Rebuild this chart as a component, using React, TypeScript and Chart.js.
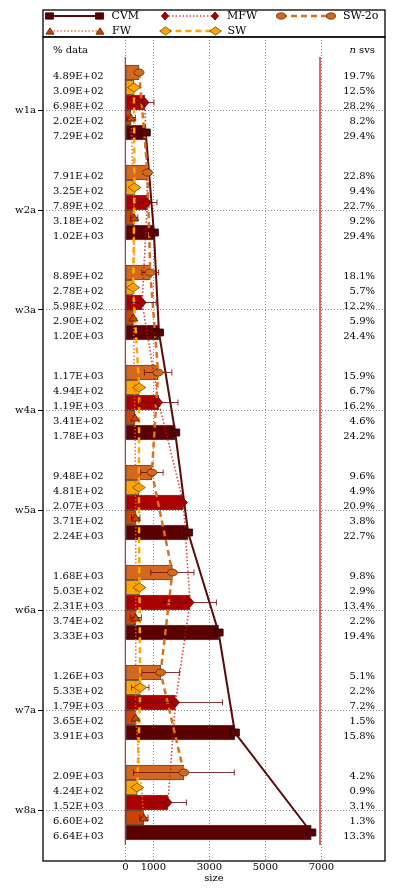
import React, { useEffect, useRef } from 'react';
import { Chart, registerables } from 'chart.js';

Chart.register(...registerables);

// ---------------- data ----------------
const GROUPS = ['w1a', 'w2a', 'w3a', 'w4a', 'w5a', 'w6a', 'w7a', 'w8a'];
const X_TICKS = [0, 1000, 3000, 5000, 7000];
const SERIES_NAMES = ['SW-2o', 'SW', 'MFW', 'FW', 'CVM'];

const SW2O_SIZE = [489, 791, 889, 1170, 948, 1680, 1260, 2090];
const SW_SIZE = [309, 325, 278, 494, 481, 503, 533, 424];
const MFW_SIZE = [698, 789, 598, 1190, 2070, 2310, 1790, 1520];
const FW_SIZE = [202, 318, 290, 341, 371, 374, 365, 660];
const CVM_SIZE = [729, 1020, 1200, 1780, 2240, 3330, 3910, 6640];

const SW2O_PCT = [19.7, 22.8, 18.1, 15.9, 9.6, 9.8, 5.1, 4.2];
const SW_PCT = [12.5, 9.4, 5.7, 6.7, 4.9, 2.9, 2.2, 0.9];
const MFW_PCT = [28.2, 22.7, 12.2, 16.2, 20.9, 13.4, 7.2, 3.1];
const FW_PCT = [8.2, 9.2, 5.9, 4.6, 3.8, 2.2, 1.5, 1.3];
const CVM_PCT = [29.4, 29.4, 24.4, 24.2, 22.7, 19.4, 15.8, 13.3];

const SW2O_ERR = [0, 0, 300, 490, 400, 770, 670, 1800];
const SW_ERR = [0, 0, 0, 0, 0, 0, 310, 0];
const MFW_ERR = [324, 340, 500, 690, 0, 940, 1680, 660];
const FW_ERR = [155, 130, 0, 0, 150, 200, 0, 150];
const CVM_ERR = [0, 0, 0, 0, 0, 0, 0, 0];

const REF_LINES = [0, 6950];

const SIZES = [SW2O_SIZE, SW_SIZE, MFW_SIZE, FW_SIZE, CVM_SIZE];
const PCTS = [SW2O_PCT, SW_PCT, MFW_PCT, FW_PCT, CVM_PCT];
const ERRS = [SW2O_ERR, SW_ERR, MFW_ERR, FW_ERR, CVM_ERR];

// ---------------- styles ----------------
const FONT = '"DejaVu Serif", serif';
const SLOT = 0.15; // slot height in group units
const SLOT_COUNT = 6;

type Shape = 'rect' | 'diamond' | 'ellipse' | 'triangle';
interface SeriesStyle {
  bar: string; line: string; dash: number[]; width: number;
  shape: Shape; mw: number; mh: number; mfill: string; mstroke: string;
}

const STYLES: SeriesStyle[] = [
  { bar: '#D2691E', line: '#D8701E', dash: [6, 4], width: 2.5, shape: 'ellipse', mw: 10, mh: 7, mfill: '#D2691E', mstroke: '#5e2a0a' },
  { bar: '#FFA500', line: '#FFA500', dash: [6, 4], width: 2.5, shape: 'diamond', mw: 13, mh: 9, mfill: '#FFA500', mstroke: '#6b4a00' },
  { bar: '#AA0000', line: 'rgba(205,20,20,0.8)', dash: [1.5, 2], width: 1.6, shape: 'diamond', mw: 8, mh: 9, mfill: '#AA0000', mstroke: '#4a0000' },
  { bar: '#CC4400', line: 'rgba(235,100,30,0.85)', dash: [1.5, 2], width: 1.6, shape: 'triangle', mw: 9, mh: 7, mfill: '#CC4400', mstroke: '#4a1800' },
  { bar: '#5A0000', line: '#5A0A0A', dash: [], width: 2, shape: 'rect', mw: 9, mh: 7, mfill: '#5A0000', mstroke: '#1a0000' },
];

const slotPos = (g: number, k: number) => g + (k - (SLOT_COUNT - 1) / 2) * SLOT;

function fmtSci(v: number): string {
  const [m, e] = v.toExponential(2).split('e');
  const sign = e[0];
  const digits = e.slice(1).padStart(2, '0');
  return `${m}E${sign}${digits}`;
}

function drawMarker(ctx: CanvasRenderingContext2D, st: SeriesStyle, x: number, y: number, scale = 1) {
  const hw = (st.mw * scale) / 2;
  const hh = (st.mh * scale) / 2;
  ctx.save();
  ctx.setLineDash([]);
  ctx.beginPath();
  switch (st.shape) {
    case 'rect':
      ctx.rect(x - hw, y - hh, hw * 2, hh * 2);
      break;
    case 'diamond':
      ctx.moveTo(x - hw, y);
      ctx.lineTo(x, y - hh);
      ctx.lineTo(x + hw, y);
      ctx.lineTo(x, y + hh);
      ctx.closePath();
      break;
    case 'ellipse':
      ctx.ellipse(x, y, hw, hh, 0, 0, Math.PI * 2);
      break;
    case 'triangle':
      ctx.moveTo(x - hw, y + hh);
      ctx.lineTo(x, y - hh);
      ctx.lineTo(x + hw, y + hh);
      ctx.closePath();
      break;
  }
  ctx.fillStyle = st.mfill;
  ctx.fill();
  ctx.lineWidth = 0.8;
  ctx.strokeStyle = st.mstroke;
  ctx.stroke();
  ctx.restore();
}

const N = SERIES_NAMES.length;

const overlayPlugin = {
  id: 'overlay',
  beforeDatasetsDraw(chart: any) {
    const { ctx, scales } = chart;
    const x = scales.x;
    const y = scales.y;
    const top = y.getPixelForValue(-0.53);
    const bottom = y.getPixelForValue(7.35);
    ctx.save();
    REF_LINES.forEach((v, i) => {
      const px = x.getPixelForValue(v);
      ctx.beginPath();
      ctx.strokeStyle = i === 0 ? '#b83030' : '#cd5c5c';
      ctx.lineWidth = i === 0 ? 1.2 : 1.8;
      ctx.moveTo(px, top);
      ctx.lineTo(px, bottom);
      ctx.stroke();
    });
    ctx.restore();
  },
  afterDatasetsDraw(chart: any) {
    const { ctx, scales } = chart;
    const x = scales.x;
    // error bars
    ctx.save();
    ctx.setLineDash([]);
    for (let k = 0; k < N; k++) {
      const meta = chart.getDatasetMeta(k);
      SIZES[k].forEach((v, g) => {
        const e = ERRS[k][g];
        if (!e) return;
        const el = meta.data[g];
        const py = el.y;
        const x1 = x.getPixelForValue(v - e);
        const x2 = x.getPixelForValue(v + e);
        ctx.strokeStyle = 'rgba(115,15,15,0.85)';
        ctx.lineWidth = 1;
        ctx.beginPath();
        ctx.moveTo(x1, py);
        ctx.lineTo(x2, py);
        ctx.moveTo(x1, py - 3);
        ctx.lineTo(x1, py + 3);
        ctx.moveTo(x2, py - 3);
        ctx.lineTo(x2, py + 3);
        ctx.stroke();
      });
    }
    ctx.restore();
    // markers
    for (let k = 0; k < N; k++) {
      const meta = chart.getDatasetMeta(N + k);
      meta.data.forEach((pt: any) => drawMarker(ctx, STYLES[k], pt.x, pt.y));
    }
  },
  afterDraw(chart: any) {
    const { ctx, chartArea, scales } = chart;
    const y = scales.y;
    const { left, right, top, bottom } = chartArea;
    ctx.save();
    // frame
    ctx.strokeStyle = '#000';
    ctx.lineWidth = 1.3;
    ctx.setLineDash([]);
    ctx.strokeRect(left, top, right - left, bottom - top);
    // legend box
    ctx.strokeRect(left, 10, right - left, top - 10);

    // legend entries
    const legendRows = [
      [{ k: 4, x: 49.5 }, { k: 2, x: 165 }, { k: 0, x: 281 }],
      [{ k: 3, x: 50 }, { k: 1, x: 165.5 }],
    ];
    const rowY = [16, 31];
    ctx.font = `11px ${FONT}`;
    ctx.textBaseline = 'middle';
    ctx.textAlign = 'left';
    legendRows.forEach((row, r) => {
      row.forEach(({ k, x }) => {
        const st = STYLES[k];
        const x1 = left + (x - 43);
        const x2 = x1 + 50;
        const yy = rowY[r];
        ctx.save();
        ctx.strokeStyle = st.line;
        ctx.lineWidth = st.width;
        ctx.setLineDash(st.dash);
        ctx.beginPath();
        ctx.moveTo(x1, yy);
        ctx.lineTo(x2, yy);
        ctx.stroke();
        ctx.restore();
        drawMarker(ctx, st, x1, yy, 0.9);
        drawMarker(ctx, st, x2, yy, 0.9);
        ctx.fillStyle = '#000';
        ctx.fillText(SERIES_NAMES[k], x2 + 12, yy + 0.5);
      });
    });

    // column headers
    ctx.font = `10px ${FONT}`;
    ctx.fillStyle = '#000';
    const headY = y.getPixelForValue(-0.6);
    ctx.textAlign = 'left';
    ctx.fillText('% data', left + 10, headY);
    ctx.textAlign = 'right';
    const svsW = ctx.measureText(' svs').width;
    ctx.fillText(' svs', right - 10, headY);
    ctx.font = `italic 10px ${FONT}`;
    ctx.fillText('n', right - 10 - svsW, headY);

    // row labels
    ctx.font = `10px ${FONT}`;
    for (let k = 0; k < N; k++) {
      const meta = chart.getDatasetMeta(k);
      SIZES[k].forEach((v, g) => {
        const py = meta.data[g].y + 4;
        ctx.textAlign = 'left';
        ctx.fillText(fmtSci(v), left + 10, py);
        ctx.textAlign = 'right';
        ctx.fillText(PCTS[k][g].toFixed(1) + '%', right - 10, py);
      });
    }

    // x title
    ctx.textAlign = 'center';
    ctx.fillText('size', (left + right) / 2, bottom + 17);
    ctx.restore();
  },
};

export default function App() {
  const ref = useRef<HTMLCanvasElement>(null);
  useEffect(() => {
    if (!ref.current) return;
    const barSets = SERIES_NAMES.map((name, k) => ({
      type: 'bar' as const,
      label: name,
      indexAxis: 'y' as const,
      data: SIZES[k].map((v, g) => ({ x: v, y: slotPos(g, k) })),
      backgroundColor: STYLES[k].bar,
      borderColor: 'rgba(35,35,35,0.8)',
      borderWidth: 1,
      borderSkipped: false,
      barThickness: 15,
      grouped: false,
      order: 2,
    }));
    const lineSets = SERIES_NAMES.map((name, k) => ({
      type: 'line' as const,
      label: name + ' line',
      indexAxis: 'y' as const,
      data: SIZES[k].map((v, g) => ({ x: v, y: slotPos(g, k) })),
      borderColor: STYLES[k].line,
      borderDash: STYLES[k].dash,
      borderWidth: STYLES[k].width,
      pointRadius: 0,
      fill: false,
      tension: 0,
      order: 1,
    }));

    const chart = new Chart(ref.current, {
      type: 'bar',
      data: { datasets: [...barSets, ...lineSets] as any },
      options: {
        animation: false,
        responsive: false,
        devicePixelRatio: 1,
        events: [],
        indexAxis: 'y',
        layout: { padding: { top: 37, right: 14, left: 0, bottom: 0 } },
        plugins: { legend: { display: false }, tooltip: { enabled: false } },
        scales: {
          x: {
            type: 'linear',
            position: 'bottom',
            min: -2940,
            max: 9270,
            offset: false,
            afterBuildTicks: (s: any) => { s.ticks = X_TICKS.map((v) => ({ value: v })); },
            afterFit: (s: any) => { s.height = 30; },
            grid: { color: '#8c8c8c', lineWidth: 1, drawTicks: false, offset: false },
            border: { display: false, dash: [1, 2] },
            ticks: {
              font: { family: FONT, size: 10 },
              color: '#000',
              padding: 0,
              autoSkip: false,
              maxRotation: 0,
              callback: (v: any) => String(v),
            },
          },
          y: {
            type: 'linear',
            reverse: true,
            min: -0.73,
            max: 7.51,
            offset: false,
            afterBuildTicks: (s: any) => { s.ticks = GROUPS.map((_, i) => ({ value: i })); },
            afterFit: (s: any) => { s.width = 43; },
            grid: {
              color: '#8c8c8c',
              lineWidth: 1,
              offset: false,
              drawTicks: true,
              tickLength: 5,
              tickColor: '#000',
              tickBorderDash: [],
              tickWidth: 1,
            },
            border: { display: false, dash: [1, 2] },
            ticks: {
              font: { family: FONT, size: 10 },
              color: '#000',
              padding: 2,
              autoSkip: false,
              callback: (v: any) => GROUPS[Math.round(v)] ?? '',
            },
          },
        },
      } as any,
      plugins: [overlayPlugin],
    });
    return () => chart.destroy();
  }, []);

  return (
    <div style={{ position: 'absolute', left: 0, top: 0, width: 399, height: 891, background: '#fff' }}>
      <canvas ref={ref} width={399} height={891} style={{ display: 'block', width: 399, height: 891 }} />
    </div>
  );
}
